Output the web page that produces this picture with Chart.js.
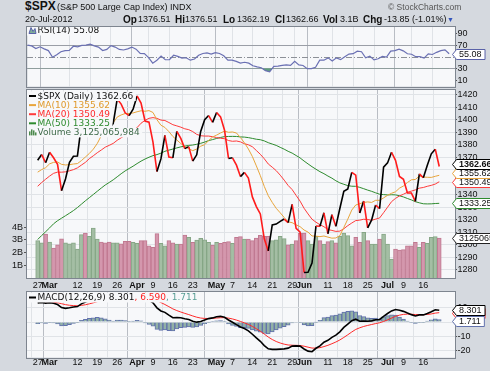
<!DOCTYPE html>
<html lang="en">
<head>
<meta charset="UTF-8">
<title>$SPX daily chart</title>
<script src="https://cdn.jsdelivr.net/npm/chart.js@4.4.1/dist/chart.umd.min.js"></script>
<style>
    body { margin: 0; }
    #wrap {
        position: relative; width: 490px; height: 371px; overflow: hidden;
        background: #d5d9df; color: #111;
        font-family: 'Liberation Sans', Arial, sans-serif;
    }
    #wrap canvas { position: absolute; left: 0; }
    .t { position: absolute; white-space: nowrap; line-height: 1; font-size: 9px; }
    .b { font-weight: bold; font-size: 10px; }
</style>
</head>
<body>
<div id="wrap">
    <canvas id="rsiChart" width="490" height="77" style="top:18px"></canvas>
    <canvas id="priceChart" width="490" height="210" style="top:82px"></canvas>
    <canvas id="macdChart" width="490" height="88" style="top:283px"></canvas>

    <div class="t" style="left:25px;top:0;font-size:12px;font-weight:bold">$SPX</div>
    <div class="t" style="left:57px;top:2.5px">(S&amp;P 500 Large Cap Index)</div>
    <div class="t" style="left:170px;top:2.5px">INDX</div>
    <div class="t" style="left:388px;top:3px;font-size:8.5px;color:#555">&copy; StockCharts.com</div>

    <div class="t" style="left:25px;top:15px">20-Jul-2012</div>
    <div class="t b" style="left:123px;top:14.5px">Op</div>
    <div class="t" style="left:138px;top:15px">1376.51</div>
    <div class="t b" style="left:175px;top:14.5px">Hi</div>
    <div class="t" style="left:185px;top:15px">1376.51</div>
    <div class="t b" style="left:223px;top:14.5px">Lo</div>
    <div class="t" style="left:237px;top:15px">1362.19</div>
    <div class="t b" style="left:275px;top:14.5px">Cl</div>
    <div class="t" style="left:286px;top:15px">1362.66</div>
    <div class="t b" style="left:323px;top:14.5px">Vol</div>
    <div class="t" style="left:340px;top:15px">3.1B</div>
    <div class="t b" style="left:363px;top:14.5px">Chg</div>
    <div class="t" style="left:384px;top:15px">-13.85 (-1.01%)</div>
    <div class="t" style="left:447px;top:16px;font-size:7px;color:#3355bb">&#9660;</div>
</div>

<script>
    // trading days shown, 27 Feb 2012 .. 20 Jul 2012
    const days = [
        '2/27', '2/28', '2/29',
        '3/1', '3/2', '3/5', '3/6', '3/7', '3/8', '3/9', '3/12', '3/13', '3/14', '3/15', '3/16',
        '3/19', '3/20', '3/21', '3/22', '3/23', '3/26', '3/27', '3/28', '3/29', '3/30',
        '4/2', '4/3', '4/4', '4/5', '4/9', '4/10', '4/11', '4/12', '4/13', '4/16', '4/17', '4/18',
        '4/19', '4/20', '4/23', '4/24', '4/25', '4/26', '4/27', '4/30',
        '5/1', '5/2', '5/3', '5/4', '5/7', '5/8', '5/9', '5/10', '5/11', '5/14', '5/15', '5/16',
        '5/17', '5/18', '5/21', '5/22', '5/23', '5/24', '5/25', '5/29', '5/30', '5/31',
        '6/1', '6/4', '6/5', '6/6', '6/7', '6/8', '6/11', '6/12', '6/13', '6/14', '6/15', '6/18',
        '6/19', '6/20', '6/21', '6/22', '6/25', '6/26', '6/27', '6/28', '6/29',
        '7/2', '7/3', '7/5', '7/6', '7/9', '7/10', '7/11', '7/12', '7/13', '7/16', '7/17', '7/18',
        '7/19', '7/20'
    ];

    const close = [
        1367.59, 1372.18, 1365.68, 1374.09, 1369.63, 1364.33, 1343.36, 1352.63, 1365.91, 1370.87,
        1371.09, 1395.95, 1394.28, 1402.60, 1404.17, 1409.75, 1405.52, 1402.89, 1392.78, 1397.11,
        1416.51, 1412.52, 1405.54, 1403.28, 1408.47, 1419.04, 1413.38, 1398.96, 1398.08, 1382.20,
        1358.59, 1368.71, 1387.57, 1370.26, 1369.57, 1390.78, 1385.14, 1376.92, 1378.53, 1366.94,
        1371.97, 1390.69, 1399.98, 1403.36, 1397.91, 1405.82, 1402.31, 1391.57, 1369.10, 1369.58,
        1363.72, 1354.58, 1357.99, 1353.39, 1338.35, 1330.66, 1324.80, 1304.86, 1295.22, 1315.99,
        1316.63, 1318.86, 1320.68, 1317.82, 1332.42, 1313.32, 1310.33, 1278.04, 1278.18, 1285.50,
        1315.13, 1314.99, 1325.66, 1308.93, 1324.18, 1314.88, 1329.10, 1342.84, 1344.78, 1357.98,
        1355.69, 1325.51, 1335.02, 1313.72, 1319.99, 1331.85, 1329.04, 1362.16, 1365.51, 1374.02,
        1367.58, 1354.68, 1352.46, 1341.47, 1341.45, 1334.76, 1356.78, 1353.64, 1363.67, 1372.78,
        1376.51, 1362.66
    ];
    const prevClose = 1365.74; // 24 Feb, only used to colour the first volume bar

    const ma10 = [
        1358.14, 1360.18, 1361.70, 1364.79, 1365.95, 1366.26, 1364.37, 1363.87, 1364.11, 1364.63,
        1364.98, 1367.35, 1370.21, 1373.07, 1376.52, 1381.06, 1387.28, 1392.30, 1394.99, 1397.61,
        1402.16, 1403.81, 1404.94, 1405.01, 1405.44, 1406.37, 1407.15, 1406.76, 1407.29, 1405.80,
        1400.01, 1395.63, 1393.83, 1390.53, 1386.64, 1383.81, 1380.99, 1378.78, 1376.83, 1375.30,
        1376.64, 1378.84, 1380.08, 1383.39, 1386.22, 1387.73, 1389.44, 1390.91, 1389.97, 1390.23,
        1389.40, 1385.79, 1381.59, 1376.60, 1370.64, 1363.13, 1355.37, 1346.70, 1339.32, 1333.96,
        1329.25, 1325.68, 1321.94, 1318.39, 1317.79, 1316.06, 1314.61, 1311.93, 1310.23, 1307.18,
        1307.03, 1306.64, 1307.14, 1306.25, 1305.43, 1305.58, 1307.46, 1313.94, 1320.60, 1327.85,
        1331.90, 1332.96, 1333.89, 1334.37, 1333.95, 1335.65, 1335.64, 1337.57, 1339.65, 1341.25,
        1342.44, 1345.36, 1347.10, 1349.88, 1352.02, 1352.31, 1355.09, 1354.24, 1354.05, 1353.93,
        1354.82, 1355.62
    ];
    const ma20 = [
        1346.87, 1349.82, 1352.49, 1354.99, 1357.19, 1358.16, 1358.12, 1358.39, 1359.19, 1360.14,
        1361.56, 1363.77, 1365.96, 1368.93, 1371.23, 1373.66, 1375.82, 1378.09, 1379.55, 1381.12,
        1383.57, 1385.58, 1387.58, 1389.04, 1390.98, 1393.71, 1397.21, 1399.53, 1401.14, 1401.71,
        1401.08, 1399.72, 1399.38, 1397.77, 1396.04, 1395.09, 1394.07, 1392.77, 1392.06, 1390.55,
        1388.32, 1387.23, 1386.95, 1386.96, 1386.43, 1385.77, 1385.21, 1384.85, 1383.40, 1382.77,
        1383.02, 1382.32, 1380.84, 1379.99, 1378.43, 1375.43, 1372.41, 1368.81, 1364.64, 1362.09,
        1359.33, 1355.73, 1351.77, 1347.49, 1344.22, 1339.59, 1334.99, 1329.32, 1324.77, 1320.57,
        1318.14, 1316.16, 1314.54, 1312.32, 1311.61, 1310.82, 1311.04, 1312.94, 1315.41, 1317.51,
        1319.47, 1319.80, 1320.52, 1320.31, 1319.69, 1320.62, 1321.55, 1325.76, 1330.12, 1334.55,
        1337.17, 1339.16, 1340.50, 1342.12, 1342.99, 1343.98, 1345.36, 1345.90, 1346.85, 1347.59,
        1348.63, 1350.49
    ];
    const ma50 = [
        1304.32, 1307.53, 1310.53, 1313.62, 1316.90, 1319.36, 1321.35, 1323.33, 1325.34, 1327.45,
        1329.88, 1332.54, 1335.27, 1337.78, 1340.32, 1342.89, 1345.45, 1347.89, 1349.90, 1352.00,
        1354.42, 1356.88, 1359.12, 1361.03, 1362.91, 1364.98, 1366.93, 1368.61, 1370.05, 1371.33,
        1372.17, 1373.29, 1374.79, 1375.71, 1376.60, 1377.51, 1378.33, 1378.93, 1379.50, 1379.80,
        1380.38, 1381.16, 1382.15, 1383.35, 1384.15, 1385.04, 1385.85, 1386.52, 1386.64, 1386.71,
        1386.64, 1386.28, 1386.13, 1385.72, 1385.09, 1384.42, 1384.05, 1383.09, 1381.68, 1380.58,
        1379.49, 1377.95, 1376.48, 1374.78, 1373.35, 1371.42, 1369.51, 1367.02, 1364.72, 1362.49,
        1360.46, 1358.51, 1356.92, 1355.03, 1353.34, 1351.26, 1349.58, 1348.45, 1347.39, 1346.90,
        1346.84, 1345.98, 1344.93, 1343.80, 1342.81, 1341.63, 1340.51, 1340.21, 1339.95, 1340.09,
        1340.00, 1339.28, 1338.33, 1337.10, 1335.97, 1334.55, 1333.64, 1332.88, 1332.77, 1332.83,
        1333.09, 1333.25
    ];

    // volume in billions of shares
    const volume = [
        2.93, 2.75, 3.45, 2.82, 2.35, 2.61, 3.08, 2.75, 2.69, 2.75,
        2.27, 3.40, 3.53, 3.27, 3.92, 3.06, 2.82, 2.75, 2.82, 2.75,
        2.75, 2.69, 2.88, 2.88, 2.80, 2.72, 2.93, 2.93, 2.53, 2.41,
        3.48, 2.72, 2.53, 2.93, 2.75, 2.67, 2.67, 3.37, 3.19, 2.80,
        2.98, 3.11, 3.00, 2.80, 2.59, 2.80, 2.72, 2.80, 2.85, 2.72,
        3.19, 3.24, 3.06, 3.06, 2.93, 3.14, 3.35, 3.27, 3.27, 2.93,
        3.00, 3.27, 3.09, 2.61, 2.67, 2.93, 3.53, 3.53, 2.93, 2.67,
        3.27, 2.93, 2.67, 2.85, 2.93, 2.75, 3.27, 3.53, 3.32, 2.53,
        3.19, 2.80, 3.58, 2.93, 2.67, 2.67, 3.06, 3.45, 2.67, 1.49,
        2.27, 2.20, 2.22, 2.53, 2.53, 2.80, 2.40, 2.80, 2.72, 3.19,
        3.24, 3.125065984
    ];

    const rsi = [
        70.0, 68.5, 64.0, 67.0, 63.5, 60.5, 49.0, 53.5, 58.5, 60.5,
        60.6, 68.0, 67.0, 69.5, 70.0, 71.5, 68.5, 66.5, 60.5, 62.5,
        69.0, 66.5, 62.5, 61.5, 63.5, 66.5, 63.0, 55.5, 55.2, 48.5,
        39.0, 44.0, 51.0, 45.0, 44.8, 52.5, 50.5, 47.5, 48.2, 44.0,
        46.0, 52.5, 55.5, 56.5, 54.5, 57.0, 55.5, 51.5, 44.0, 44.2,
        42.0, 39.0, 40.5, 39.0, 34.5, 32.5, 31.0, 26.0, 24.0, 33.5,
        34.0, 35.0, 36.0, 35.0, 42.0, 36.0, 35.0, 29.5, 29.6, 32.0,
        44.0, 44.0, 48.0, 42.5, 48.0, 45.0, 50.0, 54.5, 55.2, 59.5,
        58.5, 48.0, 51.0, 44.5, 46.5, 50.5, 49.5, 59.5, 60.5, 63.0,
        60.0, 55.0, 54.2, 50.0, 50.0, 47.5, 55.0, 53.8, 57.5, 60.5,
        61.8, 55.08
    ];

    const macd = [
        13.5, 13.8, 13.3, 13.6, 13.2, 12.3, 10.2, 9.6, 10.0, 10.6,
        10.9, 12.8, 14.0, 15.4, 16.5, 17.6, 18.0, 18.0, 17.3, 16.9,
        17.8, 18.2, 18.1, 17.8, 18.0, 18.8, 18.6, 17.0, 15.5, 13.5,
        10.0, 7.8, 6.8, 4.8, 3.0, 3.2, 3.0, 2.3, 1.8, 0.5,
        -0.1, 0.4, 1.4, 2.4, 2.9, 3.7, 4.0, 3.3, 1.4, -0.2,
        -1.8, -3.5, -4.6, -6.2, -8.6, -11.2, -13.6, -16.6, -18.9, -19.3,
        -19.3, -19.1, -18.9, -18.4, -17.0, -16.8, -17.0, -19.0, -20.5, -20.9,
        -18.5, -16.8, -14.2, -12.9, -10.8, -9.2, -6.9, -3.8, -1.5, 0.9,
        2.0, 0.5, 0.7, 0.5, 0.8, 1.6, 1.8, 4.0, 6.0, 7.8,
        8.8, 8.3, 7.5, 6.3, 5.2, 4.3, 5.0, 5.0, 6.0, 7.2,
        8.6, 8.301
    ];
    const signal = [
        14.60, 14.44, 14.21, 14.09, 13.91, 13.59, 12.91, 12.25, 11.80, 11.56,
        11.43, 11.70, 12.16, 12.81, 13.55, 14.36, 15.09, 15.67, 16.00, 16.18,
        16.50, 16.84, 17.09, 17.23, 17.38, 17.66, 17.85, 17.68, 17.24, 16.49,
        15.19, 13.71, 12.33, 10.82, 9.26, 8.05, 7.04, 6.09, 5.23, 4.28,
        3.40, 2.80, 2.52, 2.50, 2.58, 2.80, 3.04, 3.09, 2.75, 2.16,
        1.37, 0.40, -0.60, -1.72, -3.10, -4.72, -6.50, -8.52, -10.60, -12.34,
        -13.73, -14.80, -15.62, -16.18, -16.34, -16.43, -16.54, -17.03, -17.72, -18.36,
        -18.39, -18.07, -17.30, -16.42, -15.30, -14.08, -12.64, -10.87, -9.00, -7.02,
        -5.22, -4.08, -3.12, -2.40, -1.76, -1.09, -0.51, 0.39, 1.51, 2.77,
        3.98, 4.84, 5.37, 5.56, 5.49, 5.25, 5.20, 5.16, 5.33, 5.70,
        6.28, 6.590
    ];
    const hist = [
        -1.10, -0.64, -0.91, -0.49, -0.71, -1.29, -2.71, -2.65, -1.80, -0.96,
        -0.53, 1.10, 1.84, 2.59, 2.95, 3.24, 2.91, 2.33, 1.30, 0.72,
        1.30, 1.36, 1.01, 0.57, 0.62, 1.14, 0.75, -0.68, -1.74, -2.99,
        -5.19, -5.91, -5.53, -6.02, -6.26, -4.85, -4.04, -3.79, -3.43, -3.78,
        -3.50, -2.40, -1.12, -0.10, 0.32, 0.90, 0.96, 0.21, -1.35, -2.36,
        -3.17, -3.90, -4.00, -4.48, -5.50, -6.48, -7.10, -8.08, -8.30, -6.96,
        -5.57, -4.30, -3.28, -2.22, -0.66, -0.37, -0.46, -1.97, -2.78, -2.54,
        -0.11, 1.27, 3.10, 3.52, 4.50, 4.88, 5.74, 7.07, 7.50, 7.92,
        7.22, 4.58, 3.82, 2.90, 2.56, 2.69, 2.31, 3.61, 4.49, 5.03,
        4.82, 3.46, 2.13, 0.74, -0.29, -0.95, -0.20, -0.16, 0.67, 1.50,
        2.32, 1.711
    ];

    // date axis: which days get a label, and the label text
    const tickDays = ['2/27', '3/1', '3/12', '3/19', '3/26', '4/2', '4/9', '4/16', '4/23', '5/1', '5/7',
        '5/14', '5/21', '5/29', '6/1', '6/11', '6/18', '6/25', '7/2', '7/9', '7/16'];
    const tickText = ['27', 'Mar', '12', '19', '26', 'Apr', '9', '16', '23', 'May', '7',
        '14', '21', '29', 'Jun', '11', '18', '25', 'Jul', '9', '16'];

    const priceTicks = [1280, 1290, 1300, 1310, 1320, 1330, 1340, 1350, 1360, 1370, 1380, 1390, 1400, 1410, 1420];
    const volTicks = [1, 2, 3, 4];
    const rsiTicks = [10, 30, 50, 70, 90];
    const macdTicks = [-20, -10, 0, 10];

    const PLOT_BG = '#f7f8fa';
    const FRAME = '#7e858f';
    const AXIS_FONT = '"Liberation Sans", Arial, sans-serif';
    const LEG_FONT = '9px "DejaVu Sans", Verdana, sans-serif';
    const UP = '#000000';
    const DOWN = '#ff1c1c';
    const X_MIN = -0.12;
    const X_MAX = 102.4;

    const tickPos = tickDays.map(d => days.indexOf(d));
    const isMonthTick = v => /[A-Za-z]/.test(tickText[tickPos.indexOf(v)] || '');
    const pts = arr => arr.map((v, i) => ({x: i, y: v}));
    const isDown = i => close[i] < (i ? close[i - 1] : prevClose);

    function xAxis(showLabels, pad) {
        return {
            type: 'linear', min: X_MIN, max: X_MAX,
            afterBuildTicks: s => { s.ticks = tickPos.map(v => ({value: v})); },
            afterFit: s => { s.height = showLabels ? 12 : 0; },
            border: {display: false},
            grid: {
                drawTicks: false,
                color: c => (c.tick && isMonthTick(c.tick.value)) ? '#b9bdc4' : '#e0e3e7'
            },
            ticks: {
                display: showLabels, autoSkip: false, maxRotation: 0, minRotation: 0,
                padding: pad, color: '#111',
                font: c => ({family: AXIS_FONT, size: 9,
                    weight: (c.tick && isMonthTick(c.tick.value)) ? 'bold' : 'normal'}),
                callback: v => tickText[tickPos.indexOf(v)]
            }
        };
    }

    function rightAxis(min, max, ticks, gridColor) {
        return {
            position: 'right', min: min, max: max,
            afterBuildTicks: s => { s.ticks = ticks.map(v => ({value: v})); },
            afterFit: s => { s.width = 35; },
            border: {display: false},
            grid: {color: gridColor || '#e0e3e7', tickLength: 2, tickColor: '#555'},
            ticks: {
                autoSkip: false, padding: 0.5, color: '#111', font: {family: AXIS_FONT, size: 9},
                callback: v => String(v)
            }
        };
    }

    // white panel behind the plot and a frame round it
    const panel = {
        id: 'panel',
        beforeDraw(chart) {
            const a = chart.chartArea, ctx = chart.ctx;
            ctx.save();
            ctx.fillStyle = PLOT_BG;
            ctx.fillRect(a.left, a.top, a.right - a.left, a.bottom - a.top);
            ctx.restore();
        },
        afterDraw(chart) {
            const a = chart.chartArea, ctx = chart.ctx;
            ctx.save();
            ctx.strokeStyle = FRAME;
            ctx.lineWidth = 1;
            ctx.strokeRect(Math.round(a.left) - 0.5, Math.round(a.top) - 0.5,
                Math.round(a.right - a.left) + 1, Math.round(a.bottom - a.top) + 1);
            ctx.restore();
        }
    };

    function legendRow(ctx, x, y, icon, parts) {
        ctx.save();
        ctx.font = LEG_FONT;
        let w = 11;
        parts.forEach(p => { w += ctx.measureText(p.t).width; });
        ctx.fillStyle = PLOT_BG;
        ctx.fillRect(x, y - 4.5, w + 2, 9.5);
        icon(ctx, x + 2, y);
        ctx.textBaseline = 'middle';
        let tx = x + 10.5;
        parts.forEach(p => {
            ctx.fillStyle = p.c;
            ctx.fillText(p.t, tx, y + 0.5);
            tx += ctx.measureText(p.t).width;
        });
        ctx.restore();
    }

    const dash = color => (ctx, x, y) => {
        ctx.strokeStyle = color;
        ctx.lineWidth = 2;
        ctx.beginPath();
        ctx.moveTo(x, y);
        ctx.lineTo(x + 7, y);
        ctx.stroke();
    };
    const volIcon = (ctx, x, y) => {
        ctx.fillStyle = '#4d8a4d';
        ctx.fillRect(x, y - 1, 1.5, 4);
        ctx.fillRect(x + 2, y - 3, 1.5, 6);
        ctx.fillRect(x + 4, y - 2, 1.5, 5);
        ctx.fillRect(x + 6, y, 1.5, 3);
    };
    const rsiIcon = (ctx, x, y) => {
        ctx.fillStyle = '#7fae9a';
        ctx.strokeStyle = '#5a62a8';
        ctx.lineWidth = 1;
        ctx.beginPath();
        ctx.moveTo(x, y + 3);
        ctx.lineTo(x + 2, y - 3);
        ctx.lineTo(x + 4, y + 1);
        ctx.lineTo(x + 6, y - 2);
        ctx.lineTo(x + 7, y + 3);
        ctx.closePath();
        ctx.fill();
        ctx.stroke();
    };

    // value tag on the right axis
    function tag(ctx, y, text, color, bold) {
        ctx.save();
        ctx.font = (bold ? 'bold ' : '') + '9px ' + AXIS_FONT;
        const x = 455.5, h = 10, w = ctx.measureText(text).width + 6;
        y = Math.round(y) + 0.5;
        ctx.beginPath();
        ctx.moveTo(x - 3, y);
        ctx.lineTo(x + 1, y - h / 2);
        ctx.lineTo(x + 1 + w, y - h / 2);
        ctx.lineTo(x + 1 + w, y + h / 2);
        ctx.lineTo(x + 1, y + h / 2);
        ctx.closePath();
        ctx.fillStyle = '#fff';
        ctx.fill();
        ctx.strokeStyle = color;
        ctx.lineWidth = 1;
        ctx.stroke();
        ctx.fillStyle = '#111';
        ctx.textBaseline = 'middle';
        ctx.fillText(text, x + 3.5, y + 0.5);
        ctx.restore();
    }

    const last = close.length - 1;
    const common = {
        responsive: false,
        animation: false,
        devicePixelRatio: 1,
        plugins: {legend: {display: false}, tooltip: {enabled: false}}
    };
    const lineDs = (data, color, width, order, axis) => ({
        type: 'line', data: pts(data), borderColor: color, borderWidth: width,
        pointRadius: 0, tension: 0, order: order, yAxisID: axis
    });

    // ---------- RSI panel ----------
    new Chart(document.getElementById('rsiChart'), {
        type: 'line',
        data: {
            datasets: [
                Object.assign(lineDs(rsi, '#6a70b3', 1.2, 1, 'y'),
                    {fill: {target: {value: 30}, above: 'rgba(0,0,0,0)', below: '#5f9f7c'}}),
                Object.assign(lineDs(rsi, 'rgba(0,0,0,0)', 0, 2, 'y'),
                    {fill: {target: {value: 70}, above: '#d88090', below: 'rgba(0,0,0,0)'}})
            ]
        },
        options: Object.assign({}, common, {
            layout: {padding: {left: 27, right: 0, top: 8.5, bottom: 8.5}},
            scales: {
                x: xAxis(false, 0),
                y: rightAxis(-1.1, 101.8, rsiTicks, 'rgba(0,0,0,0)')
            }
        }),
        plugins: [panel, {
            id: 'rsiExtras',
            beforeDatasetsDraw(chart) {
                const ctx = chart.ctx, a = chart.chartArea, y = chart.scales.y;
                ctx.save();
                ctx.lineWidth = 1;
                ctx.strokeStyle = '#9a9ea6';
                [70, 30].forEach(v => {
                    const py = Math.round(y.getPixelForValue(v)) + 0.5;
                    ctx.beginPath(); ctx.moveTo(a.left, py); ctx.lineTo(a.right, py); ctx.stroke();
                });
                ctx.strokeStyle = '#8c9097';
                ctx.setLineDash([6, 2, 1, 2]);
                const py = Math.round(y.getPixelForValue(50)) + 0.5;
                ctx.beginPath(); ctx.moveTo(a.left, py); ctx.lineTo(a.right, py); ctx.stroke();
                ctx.restore();
            },
            afterDatasetsDraw(chart) {
                legendRow(chart.ctx, chart.chartArea.left, chart.chartArea.top + 4,
                    rsiIcon, [{t: 'RSI(14) ' + rsi[last].toFixed(2), c: '#111'}]);
            },
            afterDraw(chart) {
                tag(chart.ctx, chart.scales.y.getPixelForValue(rsi[last]), rsi[last].toFixed(2), '#5a62a8');
            }
        }]
    });

    // ---------- price panel ----------
    new Chart(document.getElementById('priceChart'), {
        type: 'line',
        data: {
            datasets: [
                Object.assign(lineDs(close, UP, 1.6, 1, 'y'), {
                    segment: {borderColor: c => c.p1.parsed.y < c.p0.parsed.y ? DOWN : UP}
                }),
                lineDs(ma10, '#e8a53c', 1, 2, 'y'),
                lineDs(ma20, '#ff3b3b', 1, 3, 'y'),
                lineDs(ma50, '#2e8b2e', 1, 4, 'y'),
                {
                    type: 'bar', data: pts(volume), yAxisID: 'v', order: 9,
                    backgroundColor: c => isDown(c.dataIndex) ? '#d497ad' : '#a4bea4',
                    borderColor: c => isDown(c.dataIndex) ? '#c07890' : '#86a686',
                    borderWidth: 1, barPercentage: 1, categoryPercentage: 1
                }
            ]
        },
        options: Object.assign({}, common, {
            layout: {padding: {left: 0, right: 0, top: 8, bottom: 2}},
            scales: {
                x: xAxis(true, 2),
                y: rightAxis(1273.6, 1423.75, priceTicks),
                v: {
                    position: 'left', min: 0, max: 14.75,
                    afterBuildTicks: s => { s.ticks = volTicks.map(v => ({value: v})); },
                    afterFit: s => { s.width = 27; },
                    border: {display: false},
                    grid: {drawOnChartArea: false, tickLength: 3, tickColor: '#555'},
                    ticks: {autoSkip: false, padding: 1, color: '#111', font: {family: AXIS_FONT, size: 9},
                        callback: v => v + 'B'}
                }
            }
        }),
        plugins: [panel, {
            id: 'priceExtras',
            afterDatasetsDraw(chart) {
                const ctx = chart.ctx, x = chart.chartArea.left, y0 = chart.chartArea.top + 6;
                const rows = [
                    [dash('#000'), [{t: '$SPX (Daily) ' + close[last].toFixed(2), c: '#111'}]],
                    [dash('#e8a53c'), [{t: 'MA(10) ' + ma10[last].toFixed(2), c: '#e09a2c'}]],
                    [dash('#ff3b3b'), [{t: 'MA(20) ' + ma20[last].toFixed(2), c: '#ff2a2a'}]],
                    [dash('#2e8b2e'), [{t: 'MA(50) ' + ma50[last].toFixed(2), c: '#2e8b2e'}]],
                    [volIcon, [{t: 'Volume ' + Math.round(volume[last] * 1e9).toLocaleString('en-US'), c: '#3f6a4a'}]]
                ];
                rows.forEach((r, i) => legendRow(ctx, x, y0 + i * 9.1, r[0], r[1]));
            },
            afterDraw(chart) {
                const y = chart.scales.y, ctx = chart.ctx;
                const tags = [
                    {v: close[last], c: '#000', b: true},
                    {v: ma10[last], c: '#e8a53c'},
                    {v: ma20[last], c: '#ff3b3b'},
                    {v: ma50[last], c: '#2e8b2e'}
                ].map(t => Object.assign(t, {py: y.getPixelForValue(t.v)}));
                // keep the tags from overlapping, pushing upwards
                const sorted = tags.slice().sort((p, q) => q.py - p.py);
                for (let i = 1; i < sorted.length; i++) {
                    sorted[i].py = Math.min(sorted[i].py, sorted[i - 1].py - 9);
                }
                tag(ctx, chart.scales.v.getPixelForValue(volume[last]),
                    String(Math.round(volume[last] * 1e9)), '#222');
                tags.slice().reverse().forEach(t => tag(ctx, t.py, t.v.toFixed(2), t.c, t.b));
            }
        }]
    });

    // ---------- MACD panel ----------
    new Chart(document.getElementById('macdChart'), {
        type: 'line',
        data: {
            datasets: [
                {
                    type: 'bar', data: pts(hist), yAxisID: 'y', order: 3,
                    backgroundColor: '#92b1a6', borderColor: '#6272ad',
                    borderWidth: 1, barPercentage: 1, categoryPercentage: 1
                },
                lineDs(signal, '#ff2a2a', 1, 2, 'y'),
                lineDs(macd, '#000', 1.6, 1, 'y')
            ]
        },
        options: Object.assign({}, common, {
            layout: {padding: {left: 27, right: 0, top: 8.5, bottom: 1.5}},
            scales: {
                x: xAxis(true, 0),
                y: rightAxis(-25, 21.5, macdTicks)
            }
        }),
        plugins: [panel, {
            id: 'macdExtras',
            afterDatasetsDraw(chart) {
                legendRow(chart.ctx, chart.chartArea.left, chart.chartArea.top + 6, dash('#000'), [
                    {t: 'MACD(12,26,9) ' + macd[last].toFixed(3), c: '#111'},
                    {t: ', ' + signal[last].toFixed(3), c: '#ff2020'},
                    {t: ', ' + hist[last].toFixed(3), c: '#5a9f96'}
                ]);
            },
            afterDraw(chart) {
                const y = chart.scales.y, ctx = chart.ctx;
                tag(ctx, y.getPixelForValue(signal[last]), signal[last].toFixed(3), '#ff2a2a');
                tag(ctx, y.getPixelForValue(hist[last]) + 1.5, hist[last].toFixed(3), '#6272ad');
                tag(ctx, y.getPixelForValue(macd[last]), macd[last].toFixed(3), '#000');
            }
        }]
    });
</script>
</body>
</html>
